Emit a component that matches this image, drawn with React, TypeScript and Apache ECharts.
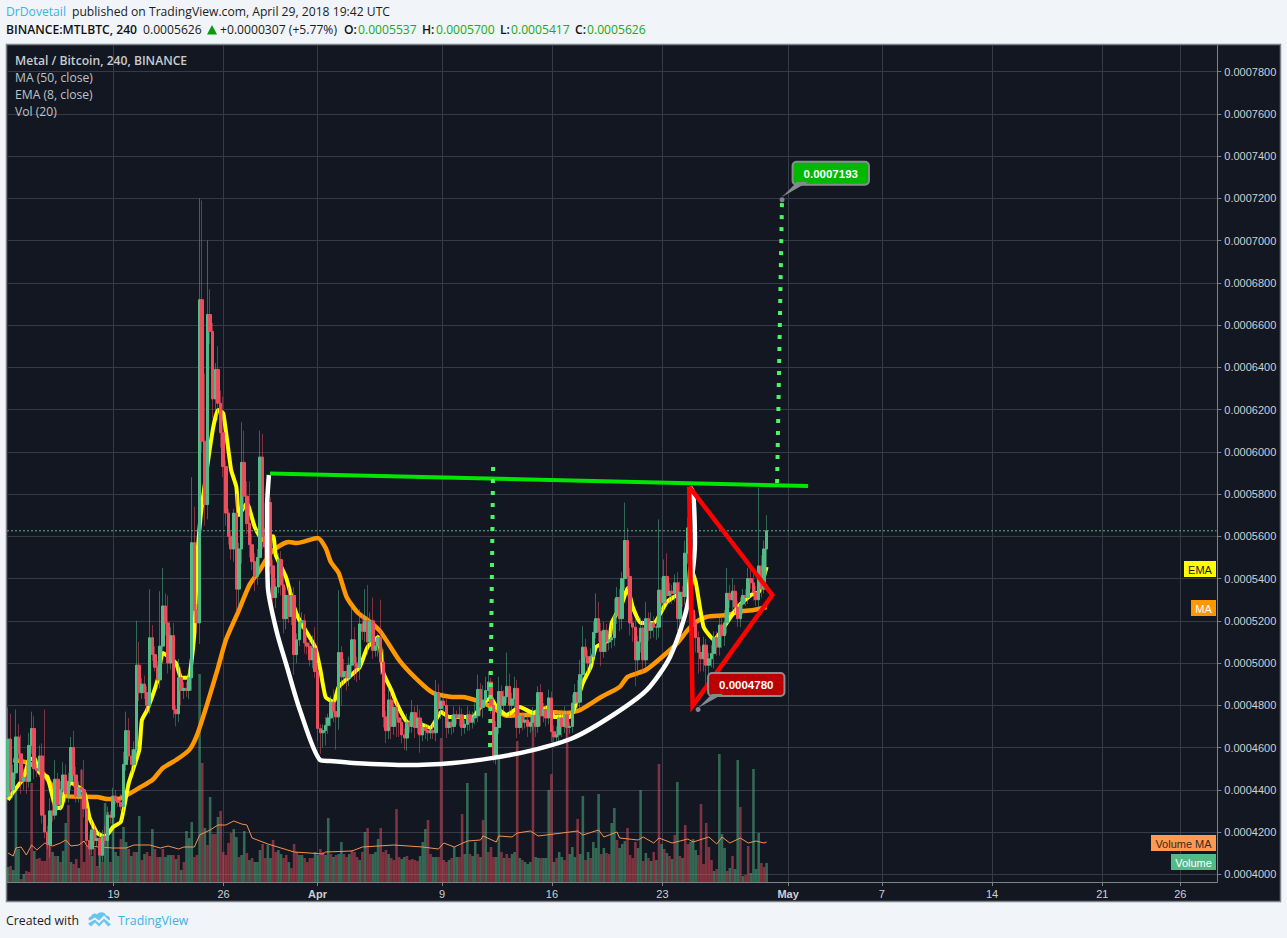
import React, { useEffect, useRef } from "react";
import * as echarts from "echarts";

// All prices are in units of 0.0000001 BTC.
const UNIT = 1e-7;
const firstOpen = 4370;
const closes = [
  4640,4400,4480,4650,4570,4440,4460,4440,4610,4690,
  4500,4490,4560,4280,4200,4140,4300,4280,4450,4330,
  4400,4470,4380,4440,4600,4470,4370,4410,4400,4310,
  4160,4120,4210,4160,4170,4090,4180,4160,4280,4270,
  4370,4350,4340,4320,4520,4680,4560,4520,4590,4990,
  4860,4900,4860,4800,5120,5040,4980,4920,5080,5270,
  5190,5000,5130,4780,4760,4930,4870,4880,4870,4930,
  5570,5250,5190,6720,6050,5750,6650,6570,6250,6390,
  6230,6090,5930,5710,5600,5540,5710,5350,5540,5950,
  5790,5660,5560,5480,5410,5500,5975,5600,5550,5760,
  5460,5310,5360,5490,5370,5210,5320,5220,5320,5040,
  5110,5190,5200,5095,5080,5015,5070,4960,4690,4670,
  4680,4705,4740,4815,4770,4745,5050,4935,4960,4930,
  4990,5110,5000,4980,5185,5150,5200,5100,5200,5060,
  5080,5120,5005,4745,4680,4825,4700,4790,4740,4720,
  4660,4645,4720,4700,4765,4695,4740,4660,4695,4680,
  4670,4680,4670,4860,4785,4820,4800,4695,4720,4700,
  4755,4740,4755,4695,4710,4755,4720,4740,4750,4875,
  4790,4825,4870,4910,4800,4560,4695,4865,4800,4840,
  4890,4800,4830,4880,4695,4750,4720,4730,4700,4720,
  4750,4700,4860,4750,4780,4740,4835,4675,4650,4660,
  4740,4700,4755,4695,4700,4810,4860,4815,4945,5075,
  5030,5000,5030,5145,5210,5150,5055,5155,5100,5110,
  5120,5225,5310,5210,5400,5580,5410,5190,5170,5015,
  5100,5165,5015,5210,5155,5190,5170,5170,5345,5285,
  5410,5320,5340,5330,5380,5210,5335,5315,5520,5640,
  5250,5190,5120,5050,5020,5085,4990,5020,5045,5120,
  5075,5180,5130,5190,5330,5300,5340,5265,5210,5280,
  5320,5310,5400,5380,5335,5300,5460,5350,5540,5626,
];
const upperWicks = [
  150,120,40,130,60,90,40,60,60,80,
  60,20,50,60,500,30,60,40,90,30,
  40,60,50,40,50,80,40,30,90,140,
  40,30,50,30,30,40,30,50,40,20,
  40,30,20,40,60,90,60,30,40,210,
  110,30,40,30,230,60,40,30,260,180,
  60,130,40,60,20,90,50,30,30,40,
  310,170,30,480,470,320,350,120,40,30,
  110,60,170,30,20,30,20,90,30,190,
  150,70,200,50,40,40,125,110,40,40,
  25,30,40,30,40,50,40,40,30,40,
  30,200,40,30,40,30,60,100,40,20,
  30,40,20,30,60,50,295,30,60,30,
  40,180,60,30,70,50,150,170,40,110,
  30,20,180,60,30,60,40,40,30,30,
  20,30,40,30,60,30,60,40,30,20,
  30,20,30,60,40,30,40,30,20,30,
  40,20,40,30,20,40,20,30,60,70,
  30,70,65,50,20,40,30,70,30,30,
  160,60,30,55,40,30,20,30,20,30,
  40,30,30,40,30,20,40,30,30,40,
  20,40,40,20,20,40,40,60,70,100,
  40,30,40,50,120,80,40,40,30,40,
  60,80,50,40,30,180,60,40,30,40,
  30,50,40,80,30,50,30,40,335,60,
  80,110,40,30,40,50,50,30,60,50,
  50,30,40,30,30,40,30,30,40,30,
  30,50,40,60,120,40,60,30,30,30,
  30,30,50,40,40,30,370,50,40,74,
];
const lowerWicks = [
  20,30,40,30,30,60,40,60,30,40,
  50,30,30,40,30,20,60,30,20,30,
  30,30,40,40,40,60,30,30,30,40,
  30,30,30,20,30,60,30,20,30,30,
  40,20,20,20,30,30,20,40,30,30,
  40,30,30,30,40,30,20,30,40,30,
  60,50,30,40,60,40,70,40,30,40,
  60,60,50,100,50,100,70,60,90,60,
  80,70,50,60,40,50,60,110,90,70,
  60,50,60,40,70,40,50,60,50,40,
  40,40,50,30,50,70,50,30,40,95,
  40,30,30,50,40,30,40,30,60,100,
  70,70,40,40,50,155,60,135,40,60,
  40,40,80,70,60,40,50,60,30,40,
  30,50,60,50,60,40,60,40,90,70,
  40,55,60,30,30,50,30,85,30,40,
  40,30,30,40,30,50,40,50,30,40,
  30,30,40,40,30,30,40,30,30,30,
  40,50,30,30,40,30,40,30,40,30,
  30,60,30,40,50,30,40,30,50,30,
  40,50,30,50,30,40,30,50,50,40,
  30,50,30,50,30,30,40,30,40,40,
  30,50,40,30,30,50,70,30,50,40,
  40,40,40,60,50,50,60,60,70,125,
  80,50,60,40,50,40,50,60,50,40,
  40,40,40,50,40,60,40,50,40,50,
  100,60,70,100,60,60,90,50,40,70,
  40,40,60,50,50,40,50,30,40,40,
  50,40,30,30,40,30,40,40,20,123,
];
// Volume on its own scale, with the side of each bar (g = up, r = down).
const volumes = [
  15,16,12,94,33,3,8,11,10,99,
  31,23,24,21,21,46,37,30,26,26,
  20,31,59,77,20,18,23,14,112,20,
  36,40,26,34,16,26,20,79,70,20,
  79,30,26,43,55,40,33,26,30,30,
  66,22,28,30,26,53,33,25,25,33,
  25,27,27,27,23,27,12,20,51,44,
  60,25,27,208,119,54,37,85,48,48,
  65,71,30,27,39,49,53,45,25,27,
  51,29,22,24,20,20,32,38,24,37,
  24,42,30,32,28,24,27,20,14,38,
  30,27,27,24,20,24,24,30,27,33,
  30,27,64,28,25,27,28,40,28,25,
  28,32,30,25,22,30,50,54,28,28,
  30,43,54,30,32,28,24,22,73,25,
  23,25,26,22,23,22,21,26,40,53,
  62,28,25,25,25,144,22,20,22,24,
  35,25,25,68,28,99,28,26,40,28,
  25,62,109,30,35,25,25,125,30,24,
  28,24,28,30,141,24,22,20,18,20,
  162,25,24,24,24,24,92,108,20,24,
  30,25,22,155,28,35,25,63,28,86,
  22,30,24,40,34,88,28,34,29,28,
  59,74,42,34,38,41,54,27,24,40,
  34,92,21,29,24,21,30,22,118,38,
  33,29,26,23,47,100,26,24,57,38,
  40,43,32,27,78,18,59,35,22,11,
  13,128,48,34,11,14,26,13,122,75,
  6,7,36,9,113,13,49,19,15,19,
];
const volumeSides = [
  "grgggrgrrr","grrrrrrgrg","rggrgrrgrr","rrgrrgrggr","gggrggrgrg",
  "grgrrgrrgr","gggrgrgrgg","grrgrgrgrr","grrrrrggrg","grgrgggrrg",
  "grrggrrgrr","rggrrrrggr","rggrgrggrr","grrrgrgrrg","ggrrrgrrrr",
  "ggrrrrrggg","rrggrrrrgr","ggrrggrggr","grgrrrggrg","rrggrgrggg",
  "rggrgggrgr","ggrrgggrgg","rgrgggrgrr","ggrgggrrrr","ggrgrgrgrg",
  "rgrgrgrgrr","gggrrrrrrg","rgggrgrggr","grrggggrrg",
].join("");

const volumeMaIdx = [0,2,3,5,7,9,11,14,17,20,22,24,27,29,30,35,40,45,48,54,58,61,65,67,71,73,77,80,83,86,89,91,93,99,104,109,115,120,121,131,135,147,158,164,166,170,175,180,181,186,187,192,194,199,202,217,219,225,227,232,233,240,242,246,248,253,259,261,267,270,272,275,279,282,285,288,289];
const volumeMaVals = [29,26,34,35,27,37,32,39,36,39,42,36,37,41,36,35,34,34,37,37,34,36,33,35,35,47,52,57,57,61,58,57,44,38,34,30,29,28,30,31,35,37,35,33,39,35,41,42,46,40,46,45,49,51,46,51,47,52,45,50,44,42,45,39,44,39,43,40,45,38,45,39,44,39,41,39,40];

const maIdx = [2,8,13,18,22,34,38,42,46,50,55,59,64,69,72,76,80,83,88,92,96,100,104,107,110,118,121,123,126,129,133,138,142,149,156,162,170,173,180,185,190,195,200,206,213,218,226,233,236,243,250,255,259,262,266,274,278,284,289];
const maVals = [4541,4527,4484,4399,4370,4366,4356,4356,4380,4409,4446,4503,4541,4588,4659,4811,4977,5109,5251,5370,5441,5521,5559,5573,5568,5592,5545,5478,5426,5313,5242,5194,5147,5014,4920,4858,4839,4839,4816,4787,4750,4754,4754,4768,4764,4778,4839,4887,4934,4967,5038,5095,5157,5194,5218,5227,5242,5251,5265];

const emaIdx = [0,2,6,8,10,12,15,18,20,22,24,29,31,34,37,40,43,46,50,51,53,57,59,64,66,69,71,72,73,74,78,80,82,85,87,88,91,94,97,101,102,106,109,111,117,119,121,124,126,130,134,137,141,143,146,148,152,158,161,165,168,172,177,181,184,186,190,195,200,206,208,214,219,222,224,229,230,234,236,238,241,246,251,255,259,260,262,265,269,272,278,283,286,289];
const emaVals = [4352,4390,4456,4541,4550,4480,4461,4319,4314,4399,4432,4390,4271,4195,4177,4224,4248,4432,4588,4730,4778,4920,5048,5000,4930,4934,5142,5474,5644,5758,6103,6198,6183,5914,5833,5701,5758,5644,5583,5600,5511,5403,5265,5204,5076,4967,4839,4815,4887,4934,4982,5076,5123,4953,4873,4811,4721,4707,4693,4768,4745,4745,4745,4811,4835,4792,4754,4792,4764,4792,4745,4745,4906,4982,5076,5109,5190,5284,5355,5265,5190,5190,5289,5322,5332,5455,5384,5171,5109,5157,5265,5322,5336,5455];

const yTickValues = [4000,4200,4400,4600,4800,5000,5200,5400,5600,5800,6000,6200,6400,6600,6800,7000,7200,7400,7600,7800];
const xTickValues = [40.2,82.1,117.9,165.4,207.2,249.3,297.2,332.9,374.9,416.9,446.6];
const xTickLabels = ["19","26","Apr","9","16","23","May","7","14","21","26"];

const lastPrice = 5626;
const greenTrend = [[99.8,5897],[304.8,5838]];
const redTriangle = [[259.5,5835],[260.8,4797],[291.2,5322],[259.5,5835]];
const whiteCup = [[99.4,5890],[98.7,5739],[98.7,5677],[99,5360],[102.5,5142],[106.3,4981],[111.2,4778],[118.9,4541],[122.7,4536],[131.4,4527],[152,4517],[169.5,4527],[184.8,4551],[200,4588],[215.2,4645],[230.5,4754],[243.4,4873],[252.2,5029],[258.7,5265],[261.7,5569],[261,5806],[259.8,5835]];
const targetLeft = [[184.8,5928],[183.6,4565]];
const targetRight = [[293,5852],[294.9,7216]];
const calloutHigh = { idx: 294.9, price: 7193, color: "#00B800" };
const calloutLow = { idx: 262.9, price: 4780, color: "#BB0000" };

const X_MIN = -0.381;
const X_MAX = 460.7;
const Y_MIN = 3963.5;
const Y_MAX = 7925.7;
const VOL_MAX = 837;

const UP = "#53B987";
const DOWN = "#EB4D5C";
const UP_DIM = "rgba(83,185,135,0.5)";
const DOWN_DIM = "rgba(235,77,92,0.5)";
const GRID = "#363A49";
const AXIS = "#7E8186";
const LABEL = "#CDD0D4";
const BLUE = "#3BB3E4";
const TEXT_UI = "Open Sans";
const TEXT_AXIS = "Liberation Sans";

echarts.graphic.registerShape(
  "tvlogo",
  echarts.graphic.extendPath(
    "M2 9C0 9 0 5 3 5C4 2 7 1 9 3C11 0 17 0 18 4C22 4 23 8 21 9L16 4L11 9L7 6ZM0 12L7 8L11 12L16 7L23 13L20 15L16 10L11 15L7 11L3 15Z",
    {}
  )
);

const p = (v: number) => v * UNIT;
const sparse = (xs: number[], ys: number[], scale = UNIT) => xs.map((x, i) => [x, ys[i] * scale]);
const pts = (list: number[][]) => list.map(([x, y]) => [x, p(y)]);

function text(str: string, x: number, y: number, fill: string, size = 12.15, weight = "normal", family = TEXT_UI, align = "left") {
  return {
    type: "text",
    x,
    y,
    z: 50,
    silent: true,
    style: { text: str, fill, font: `${weight} ${size}px "${family}"`, align, verticalAlign: "middle" },
  };
}
function tag(str: string, left: number, top: number, right: number, bottom: number, bg: string, fg: string) {
  return [
    { type: "rect", z: 50, silent: true, shape: { x: left, y: top, width: right - left, height: bottom - top }, style: { fill: bg } },
    text(str, (left + right) / 2, (top + bottom) / 2 + 0.5, fg, 11, "normal", TEXT_AXIS, "center"),
  ];
}
function lineSeries(data: number[][], color: string, width: number, z: number, style: any = {}, smooth: number | false = false, yAxisIndex = 0) {
  return {
    type: "line",
    data,
    yAxisIndex,
    symbol: "none",
    silent: true,
    smooth,
    z,
    lineStyle: { color, width, ...style },
  };
}
function callout(c: { idx: number; price: number; color: string }, dx: number, dy: number) {
  return {
    type: "scatter",
    silent: true,
    z: 12,
    symbol: "circle",
    symbolSize: 5,
    itemStyle: { color: "#808488", opacity: 1 },
    data: [[c.idx, p(c.price)]],
    label: {
      show: true,
      opacity: 1,
      position: [dx, dy],
      formatter: () => p(c.price).toFixed(7),
      backgroundColor: c.color,
      borderColor: "#8A8D90",
      borderWidth: 2,
      borderRadius: 3,
      padding: [5, 10, 4, 10],
      color: "#FFFFFF",
      fontFamily: TEXT_AXIS,
      fontSize: 11.5,
      fontWeight: "bold",
    },
  };
}

export default function App() {
  const ref = useRef<HTMLDivElement>(null);
  useEffect(() => {
    document.body.style.margin = "0";
    const chart = echarts.init(ref.current!, null, { renderer: "svg" });
    const opens = closes.map((_, i) => (i === 0 ? firstOpen : closes[i - 1]));
    const wickData = closes.map((c, i) => {
      const o = opens[i];
      return [i, p(o), p(c), p(Math.min(o, c) - lowerWicks[i]), p(Math.max(o, c) + upperWicks[i])];
    });
    const bodyData = closes.map((c, i) => {
      const o = opens[i];
      return [i, p(o), p(c), p(Math.min(o, c)), p(Math.max(o, c))];
    });
    const volumeData = volumes.map((v, i) => ({
      value: [i, v],
      itemStyle: { color: volumeSides[i] === "g" ? UP_DIM : DOWN_DIM },
    }));

    const graphic: any[] = [
      { type: "rect", z: -10, silent: true, shape: { x: 6.5, y: 44.5, width: 1274, height: 857 }, style: { fill: "#131722", stroke: AXIS, lineWidth: 1.5 } },
      text("DrDovetail", 6, 11, BLUE),
      text("published on TradingView.com, April 29, 2018 19:42 UTC", 72, 11, "#1C1C1C"),
      text("BINANCE:MTLBTC, 240", 6, 29.5, "#111111", 12.15, "600"),
      text("0.0005626", 143, 29.5, "#1C1C1C"),
      { type: "polygon", z: 50, silent: true, shape: { points: [[207, 34.5], [217, 34.5], [212, 25]] }, style: { fill: "#089A08" } },
      text("+0.0000307 (+5.77%)", 220, 29.5, "#1C1C1C"),
      text("O:", 344, 29.5, "#111111", 12.15, "600"),
      text("0.0005537", 358, 29.5, "#22A71E"),
      text("H:", 422, 29.5, "#111111", 12.15, "600"),
      text("0.0005700", 436, 29.5, "#22A71E"),
      text("L:", 500, 29.5, "#111111", 12.15, "600"),
      text("0.0005417", 511, 29.5, "#22A71E"),
      text("C:", 575, 29.5, "#111111", 12.15, "600"),
      text("0.0005626", 587, 29.5, "#22A71E"),
      text("Metal / Bitcoin, 240, BINANCE", 15, 60, "#C9CCD0", 12.15, "600"),
      text("MA (50, close)", 15, 77.5, "#BFC2C6"),
      text("EMA (8, close)", 15, 94.5, "#BFC2C6"),
      text("Vol (20)", 15, 111.5, "#BFC2C6"),
      ...tag("EMA", 1184, 561, 1216, 577, "#FFFF00", "#1A1A1A"),
      ...tag("MA", 1191, 600, 1216, 616, "#FF9800", "#FFFFFF"),
      ...tag("Volume MA", 1151, 835, 1216, 851, "#FF9850", "#3A2A1A"),
      ...tag("Volume", 1171, 854, 1216, 870, "#53B987", "#FFFFFF"),
      { type: "polygon", z: 40, silent: true, shape: { points: [[782, 197], [797, 182], [808, 182]] }, style: { fill: "#868A8E" } },
      { type: "polygon", z: 40, silent: true, shape: { points: [[698, 708], [712, 694], [723, 694]] }, style: { fill: "#868A8E" } },
      text("Created with", 6, 920, "#1C1C1C", 12.3),
      { type: "tvlogo", z: 50, silent: true, x: 88, y: 911.5, style: { fill: "#6CC4EC" } },
      text("TradingView", 118, 920, BLUE, 12.3),
    ];

    chart.setOption({
      animation: false,
      backgroundColor: "#F1F4F8",
      tooltip: { show: false },
      legend: { show: false },
      graphic,
      grid: { left: 7, top: 45, width: 1210.3, height: 837, containLabel: false },
      xAxis: {
        type: "value",
        min: X_MIN,
        max: X_MAX,
        axisLine: { show: true, onZero: false, lineStyle: { color: AXIS, width: 1 } },
        axisTick: { show: true, length: 4, customValues: xTickValues, lineStyle: { color: AXIS } },
        axisLabel: {
          customValues: xTickValues,
          margin: 6,
          color: LABEL,
          fontFamily: TEXT_AXIS,
          fontSize: 11,
          formatter: (v: number) => {
            const s = xTickLabels[xTickValues.indexOf(v)] ?? "";
            return /[A-Z]/.test(s) ? `{b|${s}}` : s;
          },
          rich: { b: { color: LABEL, fontFamily: TEXT_AXIS, fontSize: 11, fontWeight: "bold" } },
        },
        splitLine: { show: true, lineStyle: { color: GRID, width: 1 } },
      },
      yAxis: [
        {
          type: "value",
          position: "right",
          min: p(Y_MIN),
          max: p(Y_MAX),
          axisLine: { show: true, onZero: false, lineStyle: { color: AXIS, width: 1 } },
          axisTick: { show: true, length: 4, customValues: yTickValues.map(p), lineStyle: { color: AXIS } },
          axisLabel: {
            customValues: yTickValues.map(p),
            margin: 7,
            color: LABEL,
            fontFamily: TEXT_AXIS,
            fontSize: 11,
            formatter: (v: number) => v.toFixed(7),
          },
          splitLine: { show: true, lineStyle: { color: GRID, width: 1 } },
        },
        { type: "value", show: false, min: 0, max: VOL_MAX, splitLine: { show: false } },
      ],
      series: [
        { type: "bar", yAxisIndex: 1, data: volumeData, barWidth: 2.6, silent: true, z: 2 },
        lineSeries(sparse(volumeMaIdx, volumeMaVals, 1), "#F5924E", 1, 3, {}, false, 1),
        lineSeries(sparse(maIdx, maVals), "#FF9800", 4.5, 3, {}, 0.2),
        lineSeries(sparse(emaIdx, emaVals), "#FFFF00", 4, 3, {}, 0.15),
        {
          type: "candlestick",
          data: wickData,
          barWidth: 1,
          silent: true,
          z: 4,
          itemStyle: { color: UP_DIM, color0: DOWN_DIM, borderColor: UP_DIM, borderColor0: DOWN_DIM, borderWidth: 1 },
        },
        {
          type: "candlestick",
          data: bodyData,
          barWidth: 3,
          silent: true,
          z: 5,
          itemStyle: { color: UP, color0: DOWN, borderColor: UP, borderColor0: DOWN, borderWidth: 1 },
        },
        lineSeries([[X_MIN, p(lastPrice)], [X_MAX - 0.3, p(lastPrice)]], "#53B987", 1, 7, { type: [2, 2] }),
        lineSeries(pts(whiteCup), "#FFFFFF", 4.5, 8, {}, 0.25),
        lineSeries(pts(greenTrend), "#00E600", 4, 9),
        lineSeries(pts(redTriangle), "#FF0000", 4.5, 10, { join: "miter" }),
        lineSeries(pts(targetLeft), "#4CF564", 4, 9, { type: [4, 8] }),
        lineSeries(pts(targetRight), "#4CF564", 4, 9, { type: [4, 8] }),
        callout(calloutHigh, 14, -34.5),
        callout(calloutLow, 13.5, -33),
      ],
    });
    return () => chart.dispose();
  }, []);
  return <div ref={ref} style={{ position: "fixed", left: 0, top: 0, width: 1287, height: 938 }} />;
}
